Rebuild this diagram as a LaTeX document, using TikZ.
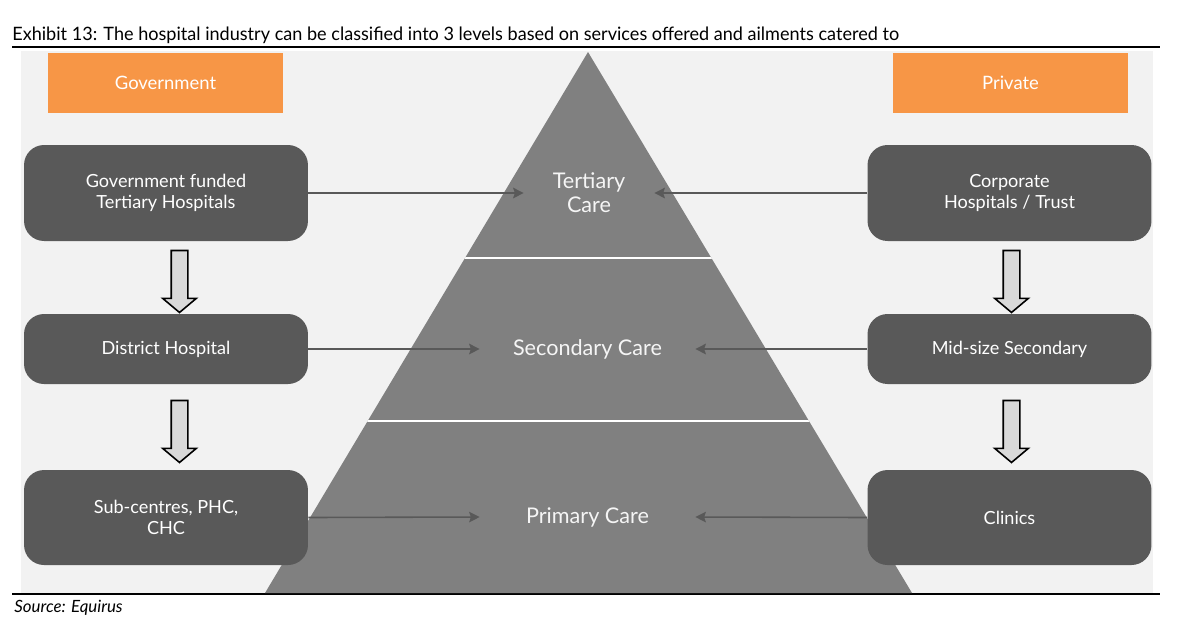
\documentclass[tikz,border=0pt]{standalone}
\usepackage{fontspec}
\setmainfont{Lato}
\usetikzlibrary{shapes.arrows,arrows.meta}
\definecolor{bgpanel}{HTML}{F2F2F2}
\definecolor{hdrorange}{HTML}{F79646}
\definecolor{boxgray}{HTML}{595959}
\definecolor{pyrgray}{HTML}{808080}
\definecolor{arrfill}{HTML}{D9D9D9}
\tikzset{
  hdrbox/.style={fill=hdrorange, text=white, minimum width=4.7cm, minimum height=1.2cm, font=\fontsize{10.5}{12}\selectfont},
  darkbox/.style={fill=boxgray, text=white, rounded corners=0.4cm, align=center, minimum width=5.68cm, font=\fontsize{10.3}{12}\selectfont},
  carelabel/.style={text=white!96!black, align=center, inner sep=0pt, font=\fontsize{12.3}{13.5}\selectfont},
  linkarr/.style={draw=boxgray, line width=0.9pt, -{Stealth[length=6pt,width=6pt,inset=1pt]}},
  blockarr/.style={single arrow, draw=black, fill=arrfill, line width=0.9pt, rotate=-90, inner xsep=0pt, inner ysep=0.15cm,
    single arrow head extend=0.17cm, single arrow tip angle=100, minimum height=1.24cm, minimum width=0.64cm}
}
\begin{document}
\begin{tikzpicture}[x=0.02cm, y=-0.02cm]
  \useasboundingbox (0,0) rectangle (1186,630);
  % title and rules
  \node[anchor=base west, inner sep=0pt] (title) at (12,40)
    {\scalebox{0.98}[1]{\fontsize{10.5}{12}\selectfont Exhibit 13: The hospital industry can be classified into 3 levels based on services offered and ailments catered to}};
  \draw[line width=0.7pt] (12,47) -- (1160,47);
  \fill[bgpanel] (21,51) rectangle (1153,593);
  \draw[line width=0.7pt] (12,594) -- (1160,594);
  \node[anchor=base west, inner sep=0pt] (src) at (14,612)
    {\fontsize{9.6}{11}\selectfont\itshape Source: Equirus};
  % pyramid with its white bands
  \fill[pyrgray] (588,52) -- (912,593) -- (265,593) -- cycle;
  \begin{scope}
    \clip (588,52) -- (912,593) -- (265,593) -- cycle;
    \foreach \yy in {258,421}{
      \draw[white, line width=1.6pt] (250,\yy) -- (930,\yy);
    }
  \end{scope}
  \node[carelabel, minimum width=2.6cm] (tert) at (589,193) {Tertiary\\Care};
  \node[carelabel, minimum width=4.3cm] (sec) at (587.5,349) {Secondary Care};
  \node[carelabel, minimum width=4.3cm] (prim) at (587.5,517) {Primary Care};
  % headers
  \node[hdrbox] (gov) at (165.5,83) {Government};
  \node[hdrbox] (priv) at (1010.5,83) {Private};
  % government side
  \node[darkbox, minimum height=1.92cm] (gtert) at (166,193) {Government funded\\Tertiary Hospitals};
  \node[darkbox, minimum height=1.4cm] (gdist) at (166,349) {District Hospital};
  \node[darkbox, minimum height=1.9cm] (gsub) at (166,517.5) {Sub-centres, PHC,\\CHC};
  % private side
  \node[darkbox, minimum height=1.92cm] (ctert) at (1009.5,193) {Corporate\\Hospitals / Trust};
  \node[darkbox, minimum height=1.4cm] (cmid) at (1009.5,349) {Mid-size Secondary};
  \node[darkbox, minimum height=1.9cm] (clin) at (1009.5,517.5) {Clinics};
  % block arrows down the columns
  \foreach \nm/\xx/\yy in {ga1/179.5/278, ga2/179.5/428, ca1/1011.5/278, ca2/1011.5/428}{
    \node[blockarr] (\nm) at (\xx,\yy) {};
  }
  % links into the pyramid
  \foreach \a/\b in {gtert/tert, gdist/sec, gsub/prim}{
    \draw[linkarr] (\a.east) -- (\b.west);
  }
  \foreach \a/\b in {ctert/tert, cmid/sec, clin/prim}{
    \draw[linkarr] (\a.west) -- (\b.east);
  }
\end{tikzpicture}
\end{document}
